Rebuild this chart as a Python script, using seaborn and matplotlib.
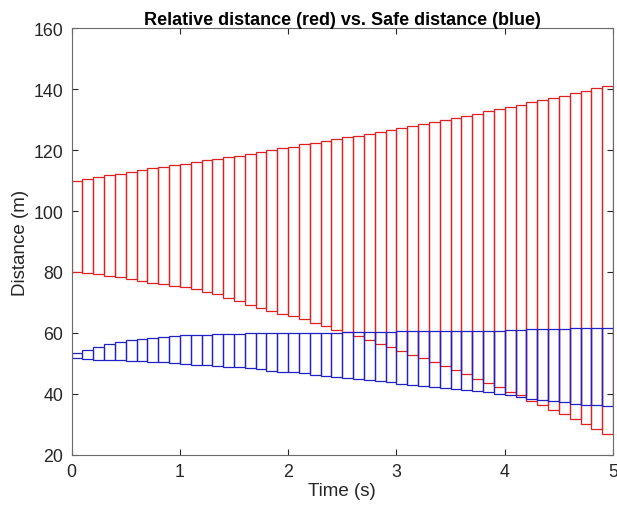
import numpy as np
import matplotlib
matplotlib.use("Agg")
import matplotlib.pyplot as plt
import seaborn as sns

# time step starts of each reachable-set box (s)
t_start = [round(0.1 * k, 1) for k in range(50)]
box_width = 0.1

red_hi = [110.0, 110.6, 111.0, 111.7, 112.1, 112.7, 113.4, 114.0, 114.5, 115.1,
          115.5, 116.0, 116.6, 117.1, 117.6, 118.1, 118.8, 119.5, 120.1, 120.7,
          121.1, 121.9, 122.4, 123.0, 123.5, 124.2, 124.7, 125.1, 126.0, 126.6,
          127.3, 127.9, 128.6, 129.1, 130.0, 130.5, 131.3, 131.8, 132.7, 133.4,
          134.2, 134.8, 135.6, 136.4, 137.0, 137.8, 138.6, 139.5, 140.2, 140.9]
red_lo = [79.9, 79.8, 79.3, 78.8, 78.3, 77.7, 77.2, 76.5, 76.1, 75.5,
          75.0, 74.3, 73.6, 72.8, 71.6, 70.4, 69.2, 68.3, 67.2, 66.2,
          65.5, 64.5, 63.4, 62.3, 61.1, 60.2, 58.9, 57.7, 56.5, 55.4,
          54.1, 52.8, 51.8, 50.4, 49.1, 47.8, 46.5, 44.9, 43.6, 42.3,
          40.8, 39.5, 37.8, 36.5, 34.9, 33.3, 31.8, 30.2, 28.4, 26.9]
blue_hi = [53.3, 54.5, 55.5, 56.4, 57.05, 57.6, 58.0, 58.4, 58.6, 58.9,
           59.2, 59.3, 59.45, 59.6, 59.7, 59.8, 59.9, 59.95, 60.0, 60.0,
           60.05, 60.1, 60.1, 60.1, 60.15, 60.2, 60.25, 60.3, 60.3, 60.35,
           60.5, 60.55, 60.6, 60.6, 60.65, 60.7, 60.7, 60.75, 60.8, 60.8,
           61.0, 61.1, 61.2, 61.25, 61.3, 61.4, 61.5, 61.6, 61.7, 61.75]
blue_lo = [51.7, 51.4, 51.3, 51.15, 51.0, 50.8, 50.7, 50.6, 50.4, 50.2,
           49.95, 49.6, 49.4, 49.1, 48.9, 48.7, 48.4, 48.1, 47.65, 47.3,
           47.1, 46.8, 46.2, 46.0, 45.7, 45.25, 44.9, 44.6, 44.3, 43.9,
           43.4, 43.0, 42.7, 42.4, 42.1, 41.5, 41.3, 40.9, 40.55, 40.0,
           39.7, 39.0, 38.5, 38.1, 37.6, 37.2, 36.8, 36.5, 36.4, 36.1]

x_ticks = [0, 1, 2, 3, 4, 5]
y_ticks = [20, 40, 60, 80, 100, 120, 140, 160]

sns.set_theme(style="white")
plt.rcParams['font.family'] = ['Liberation Sans', 'DejaVu Sans']

fig = plt.figure(figsize=(6.17, 5.10), dpi=100)
ax = fig.add_axes([0.116, 0.106, 0.8775, 0.837])

t = np.array(t_start)
rh, rl = np.array(red_hi), np.array(red_lo)
bh, bl = np.array(blue_hi), np.array(blue_lo)

ax.bar(t, rh - rl, bottom=rl, width=box_width, align='edge', fill=False,
       edgecolor='#e02020', linewidth=0.9)
ax.bar(t, bh - bl, bottom=bl, width=box_width, align='edge', fill=False,
       edgecolor='#2020c8', linewidth=0.9)

ax.set_xlim(0, 5)
ax.set_ylim(20, 160)
ax.set_xticks(x_ticks)
ax.set_yticks(y_ticks)
ax.tick_params(direction='in', length=4, width=0.8, colors='#262626',
               labelsize=12.8, top=True, right=True, bottom=True, left=True,
               pad=6)
for s in ax.spines.values():
    s.set_visible(True)
    s.set_color('#6a6a6a')
    s.set_linewidth(0.8)

ax.set_xlabel('Time (s)', fontsize=13.5, color='#262626', labelpad=1)
ax.set_ylabel('Distance (m)', fontsize=13.5, color='#262626', labelpad=3)
ax.set_title('Relative distance (red) vs. Safe distance (blue)',
             fontsize=13, fontweight='bold', color='black', pad=3)

fig.savefig('out.png', dpi=100)
